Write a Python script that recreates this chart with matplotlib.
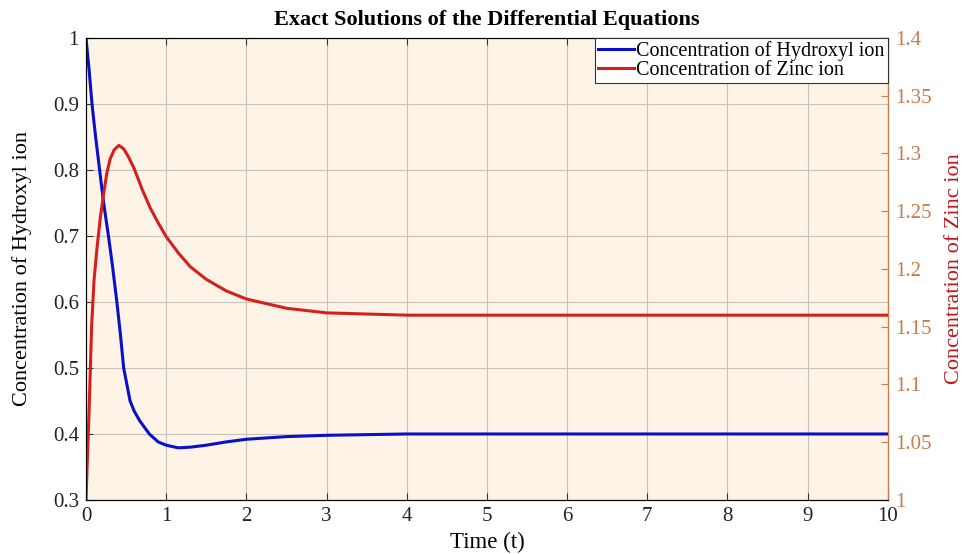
import numpy as np
import matplotlib
matplotlib.use("Agg")
import matplotlib.pyplot as plt
from matplotlib.ticker import FuncFormatter

plt.rcParams['font.family'] = ['Liberation Serif', 'DejaVu Serif']

# Hydroxyl ion (left axis)
t_oh = [0, 0.04, 0.075, 0.12, 0.17, 0.22, 0.28, 0.33, 0.385, 0.43, 0.47, 0.55,
        0.6, 0.67, 0.79, 0.9, 1.0, 1.15, 1.3, 1.5, 1.75, 2.0, 2.5, 3.0, 3.5, 4.0, 10]
oh = [1.0, 0.95, 0.9, 0.85, 0.8, 0.75, 0.7, 0.655, 0.6, 0.55, 0.5, 0.45,
      0.435, 0.42, 0.4, 0.388, 0.383, 0.379, 0.380, 0.383, 0.388, 0.392, 0.396,
      0.398, 0.399, 0.4, 0.4]

# Zinc ion (right axis)
t_zn = [0, 0.02, 0.04, 0.07, 0.1, 0.14, 0.18, 0.22, 0.26, 0.3, 0.35, 0.41, 0.47,
        0.53, 0.6, 0.7, 0.8, 0.9, 1.0, 1.15, 1.3, 1.5, 1.75, 2.0, 2.5, 3.0, 3.5, 4.0, 10]
zn = [1.0, 1.04, 1.08, 1.15, 1.19, 1.22, 1.245, 1.265, 1.283, 1.295, 1.303, 1.307,
      1.304, 1.297, 1.287, 1.269, 1.253, 1.24, 1.228, 1.214, 1.202, 1.191, 1.181,
      1.174, 1.166, 1.162, 1.161, 1.16, 1.16]

bg = '#fdf3e6'
orange = '#c87a4a'
blue = '#0a10c8'
red = '#d41f1f'

fig = plt.figure(figsize=(9.64, 5.54), dpi=100)
ax = fig.add_axes([0.0892, 0.0975, 0.8318, 0.834])
ax.set_facecolor(bg)

l1, = ax.plot(t_oh, oh, color=blue, lw=2.2, label='Concentration of Hydroxyl ion')
ax.set_xlim(0, 10)
ax.set_ylim(0.3, 1.0)
ax.set_xticks(range(0, 11))
ax.set_yticks(np.arange(0.3, 1.01, 0.1))
fmt = FuncFormatter(lambda v, p: ('%g' % round(v, 2)))
ax.yaxis.set_major_formatter(fmt)
ax.grid(True, color='#c8c2ba', lw=0.8)
ax.tick_params(direction='in', length=5, labelsize=15, top=True, colors='#333333',
               labelcolor='#222222', pad=5)
ax.set_xlabel('Time (t)', fontsize=16.5)
ax.xaxis.set_label_coords(0.5, -0.07)
ax.set_ylabel('Concentration of Hydroxyl ion', fontsize=16)
ax.yaxis.set_label_coords(-0.067, 0.5)
ax.set_title('Exact Solutions of the Differential Equations', fontsize=16,
             fontweight='bold', y=1.01)
for s in ['left', 'bottom', 'top']:
    ax.spines[s].set_color('#333333')

ax2 = ax.twinx()
l2, = ax2.plot(t_zn, zn, color=red, lw=2.2, label='Concentration of Zinc ion')
ax2.set_ylim(1.0, 1.4)
ax2.set_yticks(np.arange(1.0, 1.401, 0.05))
ax2.yaxis.set_major_formatter(fmt)
ax2.tick_params(direction='in', length=5, labelsize=15, colors=orange, pad=5)
ax2.spines['right'].set_color(orange)
ax2.set_ylabel('Concentration of Zinc ion', fontsize=16, color='#c0161b')
ax2.yaxis.set_label_coords(1.071, 0.5)

leg = ax2.legend(handles=[l1, l2], loc='upper right', fontsize=14.5, frameon=True,
                 fancybox=False, borderpad=0.15, labelspacing=0.0,
                 handlelength=1.8, handletextpad=0.1, borderaxespad=0.0)
leg.get_frame().set_edgecolor('#333333')
leg.get_frame().set_linewidth(0.8)
leg.get_frame().set_alpha(1)

fig.savefig('out.png', dpi=100)
